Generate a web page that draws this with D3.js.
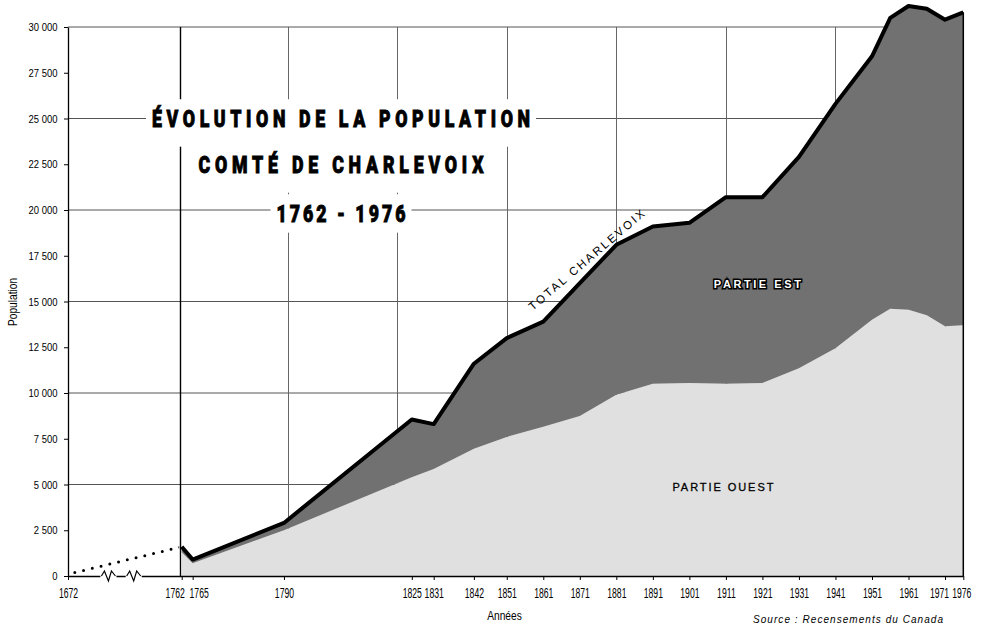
<!DOCTYPE html>
<html>
<head>
<meta charset="utf-8">
<script src="https://cdn.jsdelivr.net/npm/d3@7"></script>
<style>
body{margin:0;background:#fff;}
svg{display:block;}
</style>
</head>
<body>
<svg id="chart"></svg>
<script>
// données
var years=[1762,1765,1790,1825,1831,1842,1851,1861,1871,1881,1891,1901,1911,1921,1931,1941,1951,1956,1961,1966,1971,1976];
var totalValues=[1600,900,2900,8550,8300,11600,13000,13900,16000,18100,19100,19300,20700,20700,22900,25800,28400,30500,31150,31000,30400,30800];
var ouestValues=[1300,700,2500,5400,5850,6950,7600,8150,8750,9900,10500,10550,10500,10550,11350,12450,14000,14600,14550,14250,13650,13700];
var earlyYears=[1672,1762];
var earlyValues=[100,1600];
var tickYears=[1672,1762,1765,1790,1825,1831,1842,1851,1861,1871,1881,1891,1901,1911,1921,1931,1941,1951,1961,1971,1976];
var yTicks=[0,2500,5000,7500,10000,12500,15000,17500,20000,22500,25000,27500,30000];
var gridYears=[1761,1791,1821,1851,1881,1911,1941,1971];
var gridValues=[5000,10000,15000,20000,25000,30000];
var breakYears=[1704,1724];
var titleLines=['ÉVOLUTION DE LA POPULATION','COMTÉ DE CHARLEVOIX','1762 - 1976'];

var width=986;
var height=625;

var svg=d3.select('#chart')
    .attr('width',width)
    .attr('height',height);

var x=d3.scaleLinear()
    .domain([1672,1762,1976])
    .range([68,181.7,963.3]);
var y=d3.scaleLinear()
    .domain([0,30000])
    .range([576,27]);

var rows=years.map(function(yr,i){
    return {year:yr,total:totalValues[i],ouest:ouestValues[i]};
});

var sans='"Liberation Sans",Arial,sans-serif';

// quadrillage
var grid=svg.append('g');
grid.selectAll('line.h')
    .data(gridValues)
    .enter()
    .append('line')
    .attr('x1',x(1672)).attr('x2',x(1976))
    .attr('y1',function(d){return y(d);})
    .attr('y2',function(d){return y(d);})
    .attr('stroke','#555')
    .attr('stroke-width',1);
grid.selectAll('line.v')
    .data(gridYears)
    .enter()
    .append('line')
    .attr('x1',function(d){return Math.round(x(d))+0.5;})
    .attr('x2',function(d){return Math.round(x(d))+0.5;})
    .attr('y1',y(30000)).attr('y2',y(0))
    .attr('stroke',function(d,i){return i==0?'#000':'#666';})
    .attr('stroke-width',function(d,i){return i==0?1.4:1;});

// aires
var areaOuest=d3.area()
    .x(function(d){return x(d.year);})
    .y0(y(0))
    .y1(function(d){return y(d.ouest);});
var areaEst=d3.area()
    .x(function(d){return x(d.year);})
    .y0(function(d){return y(d.ouest);})
    .y1(function(d){return y(d.total);});

svg.append('path')
    .attr('d',areaOuest(rows))
    .attr('fill','#e0e0e0');
svg.append('path')
    .attr('d',areaEst(rows))
    .attr('fill','#717171');

var last=rows[rows.length-1];
svg.append('line')
    .attr('x1',x(last.year)).attr('x2',x(last.year))
    .attr('y1',y(last.total)).attr('y2',y(0))
    .attr('stroke','#000')
    .attr('stroke-width',1.5);

var totalLine=d3.line()
    .x(function(d){return x(d.year);})
    .y(function(d){return y(d.total);});
svg.append('path')
    .attr('d',totalLine(rows))
    .attr('fill','none')
    .attr('stroke','#000')
    .attr('stroke-width',4)
    .attr('stroke-linejoin','round');

// période antérieure en pointillé
svg.append('clipPath').attr('id','earlyClip')
    .append('rect')
    .attr('x',x(1672)).attr('y',0)
    .attr('width',x(1760)-x(1672)).attr('height',height);
var earlyLine=d3.line()
    .x(function(d){return x(d[0]);})
    .y(function(d){return y(d[1]);});
svg.append('path')
    .attr('d',earlyLine(earlyYears.map(function(d,i){return [d,earlyValues[i]];})))
    .attr('clip-path','url(#earlyClip)')
    .attr('fill','none')
    .attr('stroke','#000')
    .attr('stroke-width',3)
    .attr('stroke-linecap','round')
    .attr('stroke-dasharray','0 9')
    .attr('stroke-dashoffset',-7);

// axes
var fr=d3.formatLocale({decimal:',',thousands:' ',grouping:[3],currency:['','']});
var yAxis=d3.axisLeft(y)
    .tickValues(yTicks)
    .tickSize(4)
    .tickSizeOuter(0)
    .tickFormat(fr.format(','));
var gy=svg.append('g')
    .attr('transform','translate('+x(1672)+',0)')
    .call(yAxis);
gy.select('.domain').attr('stroke','#000').attr('stroke-width',1.3);
gy.selectAll('.tick line').attr('stroke','#000');
gy.selectAll('text')
    .attr('font-family',sans)
    .attr('font-size',11)
    .attr('fill','#000')
    .attr('x',-10.5/0.86)
    .attr('transform','scale(0.86,1)');

var shifts={1762:-7,1765:6,1971:-6,1976:-2};
var sx=0.72,sy=1.16;
var xAxis=d3.axisBottom(x)
    .tickValues(tickYears)
    .tickSize(4)
    .tickSizeOuter(0)
    .tickFormat(d3.format('d'));
var gx=svg.append('g')
    .attr('transform','translate(0,'+y(0)+')')
    .call(xAxis);
gx.select('.domain').attr('stroke','#000').attr('stroke-width',1.3);
gx.selectAll('.tick line').attr('stroke','#000');
gx.selectAll('text')
    .attr('font-family',sans)
    .attr('font-size',12)
    .attr('fill','#000')
    .attr('dy',null)
    .attr('y',22/sy)
    .attr('x',function(d){return (shifts[d]||0)/sx;})
    .attr('transform','scale('+sx+','+sy+')');

// coupures de l'axe
var breaks=svg.append('g');
breaks.selectAll('rect')
    .data(breakYears)
    .enter()
    .append('rect')
    .attr('x',function(d){return x(d)-8;})
    .attr('y',y(0)-2)
    .attr('width',16).attr('height',4)
    .attr('fill','#fff');
breaks.selectAll('path')
    .data(breakYears)
    .enter()
    .append('path')
    .attr('d',function(d){
        var cx=x(d),cy=y(0);
        return 'M'+(cx-7)+','+cy+'L'+(cx-4)+','+(cy-5)+'L'+(cx)+','+(cy+5)+'L'+(cx+3)+','+(cy-5)+'L'+(cx+7)+','+cy;
    })
    .attr('fill','none')
    .attr('stroke','#000')
    .attr('stroke-width',1.2);

// titres d'axes
svg.append('text')
    .attr('transform','translate(16.5,302) rotate(-90) scale(0.85,1)')
    .attr('text-anchor','middle')
    .attr('font-family',sans)
    .attr('font-size',12)
    .text('Population');
svg.append('text')
    .attr('transform','translate(504.5,620) scale(0.85,1)')
    .attr('text-anchor','middle')
    .attr('font-family',sans)
    .attr('font-size',12)
    .text('Années');
svg.append('text')
    .attr('x',753).attr('y',623)
    .attr('font-family',sans)
    .attr('font-style','italic')
    .attr('font-size',10)
    .attr('textLength',190)
    .attr('lengthAdjust','spacing')
    .text('Source : Recensements du Canada');

// titre
var titleBase=[127,173,222];
var titleLen=[378,285,129];
var titleBottomPad=[14,14,5];
var tsx=0.74;
titleLines.forEach(function(t,i){
    var tg=svg.append('g')
        .attr('transform','translate(341,'+titleBase[i]+') scale('+tsx+',1)');
    var txt=tg.append('text')
        .attr('x',0).attr('y',0)
        .attr('text-anchor','middle')
        .attr('font-family','Roboto,'+sans)
        .attr('font-weight',900)
        .attr('font-size',24)
        .attr('stroke','#000')
        .attr('stroke-width',0.9)
        .attr('textLength',titleLen[i]/tsx)
        .attr('lengthAdjust','spacing')
        .text(t);
    var bb=txt.node().getBBox();
    tg.insert('rect','text')
        .attr('x',bb.x-6/tsx).attr('y',bb.y-5)
        .attr('width',bb.width+12/tsx)
        .attr('height',bb.height+5+titleBottomPad[i])
        .attr('fill','#fff');
});

// étiquettes des séries
var ang=-40.5;
svg.append('text')
    .attr('transform','translate('+(x(1851)+26)+','+(y(13000)-27)+') rotate('+ang+')')
    .attr('font-family',sans)
    .attr('font-size',11.5)
    .attr('textLength',148)
    .attr('lengthAdjust','spacing')
    .text('TOTAL CHARLEVOIX');

svg.append('text')
    .attr('x',x(1901)+68).attr('y',y(16000)+5)
    .attr('text-anchor','middle')
    .attr('font-family',sans)
    .attr('font-weight','bold')
    .attr('font-size',11)
    .attr('fill','#fff')
    .attr('stroke','#000')
    .attr('stroke-width',3)
    .attr('paint-order','stroke')
    .attr('textLength',87)
    .attr('lengthAdjust','spacing')
    .text('PARTIE EST');

svg.append('text')
    .attr('x',x(1911)-3).attr('y',y(4900)+5)
    .attr('text-anchor','middle')
    .attr('font-family',sans)
    .attr('font-size',11)
    .attr('stroke','#000')
    .attr('stroke-width',0.3)
    .attr('textLength',101)
    .attr('lengthAdjust','spacing')
    .text('PARTIE OUEST');
</script>
</body>
</html>
